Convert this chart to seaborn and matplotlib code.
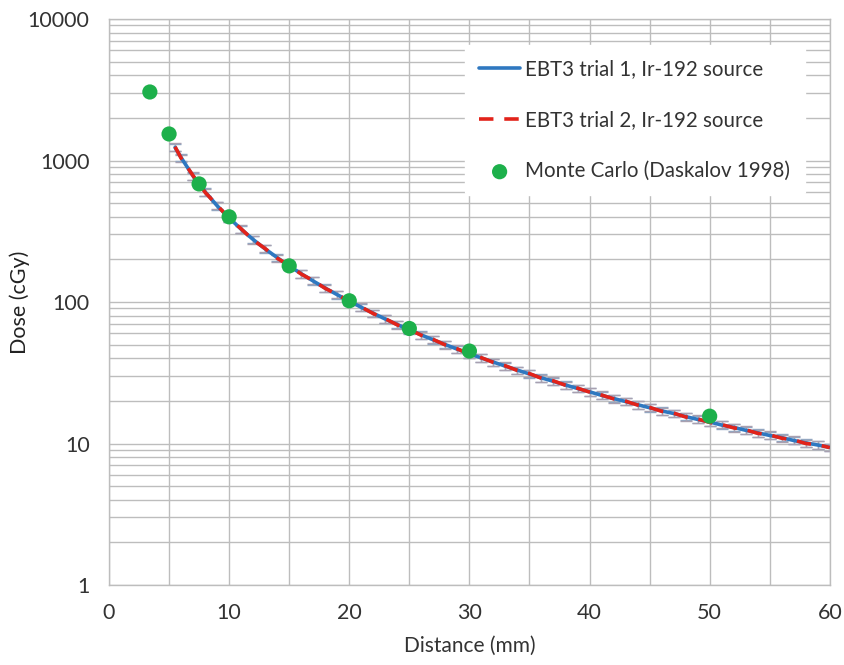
import numpy as np
import pandas as pd
import matplotlib
matplotlib.use("Agg")
import matplotlib.pyplot as plt
import seaborn as sns
from matplotlib.ticker import MultipleLocator, LogLocator, NullFormatter, FixedLocator

distance = [5.5, 6, 7, 8, 9, 10, 11, 12, 13, 14, 15, 16, 17, 18, 19, 20,
            21, 22, 23, 24, 25, 26, 27, 28, 29, 30, 31, 32, 33, 34, 35,
            36, 37, 38, 39, 40, 41, 42, 43, 44, 45, 46, 47, 48, 49, 50,
            51, 52, 53, 54, 55, 56, 57, 58, 59, 60]
dose_trial1 = [1237, 1049, 776, 601, 479, 393, 327, 276.5, 237.2, 206, 179.8,
               158.5, 140.7, 125.5, 112.6, 101.6, 91.7, 83.2, 75.8, 69.3, 63.6,
               58.5, 54.0, 50.0, 46.4, 43.1, 40.2, 37.6, 35.2, 33.0, 31.0,
               29.1, 27.5, 25.9, 24.5, 23.2, 21.9, 20.8, 19.8, 18.8, 17.9,
               17.0, 16.3, 15.5, 14.8, 14.2, 13.5, 13.0, 12.4, 11.9, 11.4,
               11.0, 10.5, 10.1, 9.76, 9.39]
dose_trial2 = [1250, 1040, 781, 596, 483, 390, 329, 274.0, 238.5, 204, 181.0,
               157.6, 141.5, 124.8, 113.1, 101.0, 92.2, 82.8, 76.2, 68.9, 63.9,
               58.2, 54.3, 49.7, 46.6, 42.9, 40.4, 37.4, 35.4, 32.8, 31.2,
               28.9, 27.7, 25.8, 24.6, 23.1, 22.0, 20.7, 19.9, 18.7, 18.0,
               16.9, 16.4, 15.4, 14.9, 14.1, 13.6, 12.9, 12.5, 11.8, 11.5,
               10.9, 10.6, 10.0, 9.80, 9.35]
rel_err = 0.06

# Monte Carlo reference points
mc_distance = [3.4, 5, 7.5, 10, 15, 20, 25, 30, 50]
mc_dose = [3050, 1540, 683, 400, 180, 102, 65, 45, 15.6]

df = pd.DataFrame({"distance": distance, "trial1": dose_trial1, "trial2": dose_trial2})
mc = pd.DataFrame({"distance": mc_distance, "dose": mc_dose})

sns.set_style("white")
plt.rcParams["font.family"] = ["Lato", "DejaVu Sans"]

fig = plt.figure(figsize=(8.45, 6.65), dpi=100)
ax = fig.add_axes([0.129, 0.1203, 0.853, 0.8511])

grid_c = "#BDBDBD"
ax.errorbar(df["distance"], df["trial1"], yerr=df["trial1"] * rel_err, fmt="none",
            ecolor="#8FA8C4", elinewidth=1.0, capsize=4, capthick=1.0, zorder=2)
ax.errorbar(df["distance"], df["trial2"], yerr=df["trial2"] * rel_err, fmt="none",
            ecolor="#A8A0B0", elinewidth=1.0, capsize=4, capthick=1.0, zorder=2)
sns.lineplot(data=df, x="distance", y="trial1", ax=ax, color="#2F78C0", lw=2.6,
             label="EBT3 trial 1, Ir-192 source", zorder=3)
sns.lineplot(data=df, x="distance", y="trial2", ax=ax, color="#E2231A", lw=2.6,
             label="EBT3 trial 2, Ir-192 source", zorder=4)
ax.lines[-1].set_dashes((4, 3))
sns.scatterplot(data=mc, x="distance", y="dose", ax=ax, color="#1DB04B", s=120,
                edgecolor="none", label="Monte Carlo (Daskalov 1998)", zorder=5)

ax.set_yscale("log")
ax.set_xlim(0, 60)
ax.set_ylim(1, 10000)
ax.xaxis.set_major_locator(MultipleLocator(10))
ax.xaxis.set_minor_locator(MultipleLocator(5))
ax.yaxis.set_major_locator(FixedLocator([1, 10, 100, 1000, 10000]))
ax.set_yticklabels(["1", "10", "100", "1000", "10000"])
ax.yaxis.set_minor_locator(LogLocator(base=10, subs=np.arange(2, 10)))
ax.yaxis.set_minor_formatter(NullFormatter())

ax.grid(True, which="both", color=grid_c, lw=1.0)
ax.set_axisbelow(True)
for s in ax.spines.values():
    s.set_color(grid_c)
    s.set_linewidth(1.0)
ax.tick_params(axis="both", which="both", direction="out", color="#808080",
               labelsize=15.5, labelcolor="#333333")
ax.tick_params(axis="x", which="both", length=6, pad=7)
ax.tick_params(axis="y", which="major", length=8, pad=6)
ax.tick_params(axis="y", which="minor", length=0)

ax.set_xlabel("Distance (mm)", fontsize=15, color="#333333", labelpad=9)
ax.set_ylabel("Dose (cGy)", fontsize=15.5, color="#222222")
ax.yaxis.set_label_coords(-0.11, 0.5)

leg = ax.legend(loc="upper right", bbox_to_anchor=(0.965, 0.954), fontsize=14.8,
                frameon=True, facecolor="white", edgecolor="white", framealpha=1,
                labelspacing=1.5, handlelength=2.0, handletextpad=0.25,
                borderpad=0.7, borderaxespad=0)
for t in leg.get_texts():
    t.set_color("#333333")

fig.savefig("out.png", dpi=100)
